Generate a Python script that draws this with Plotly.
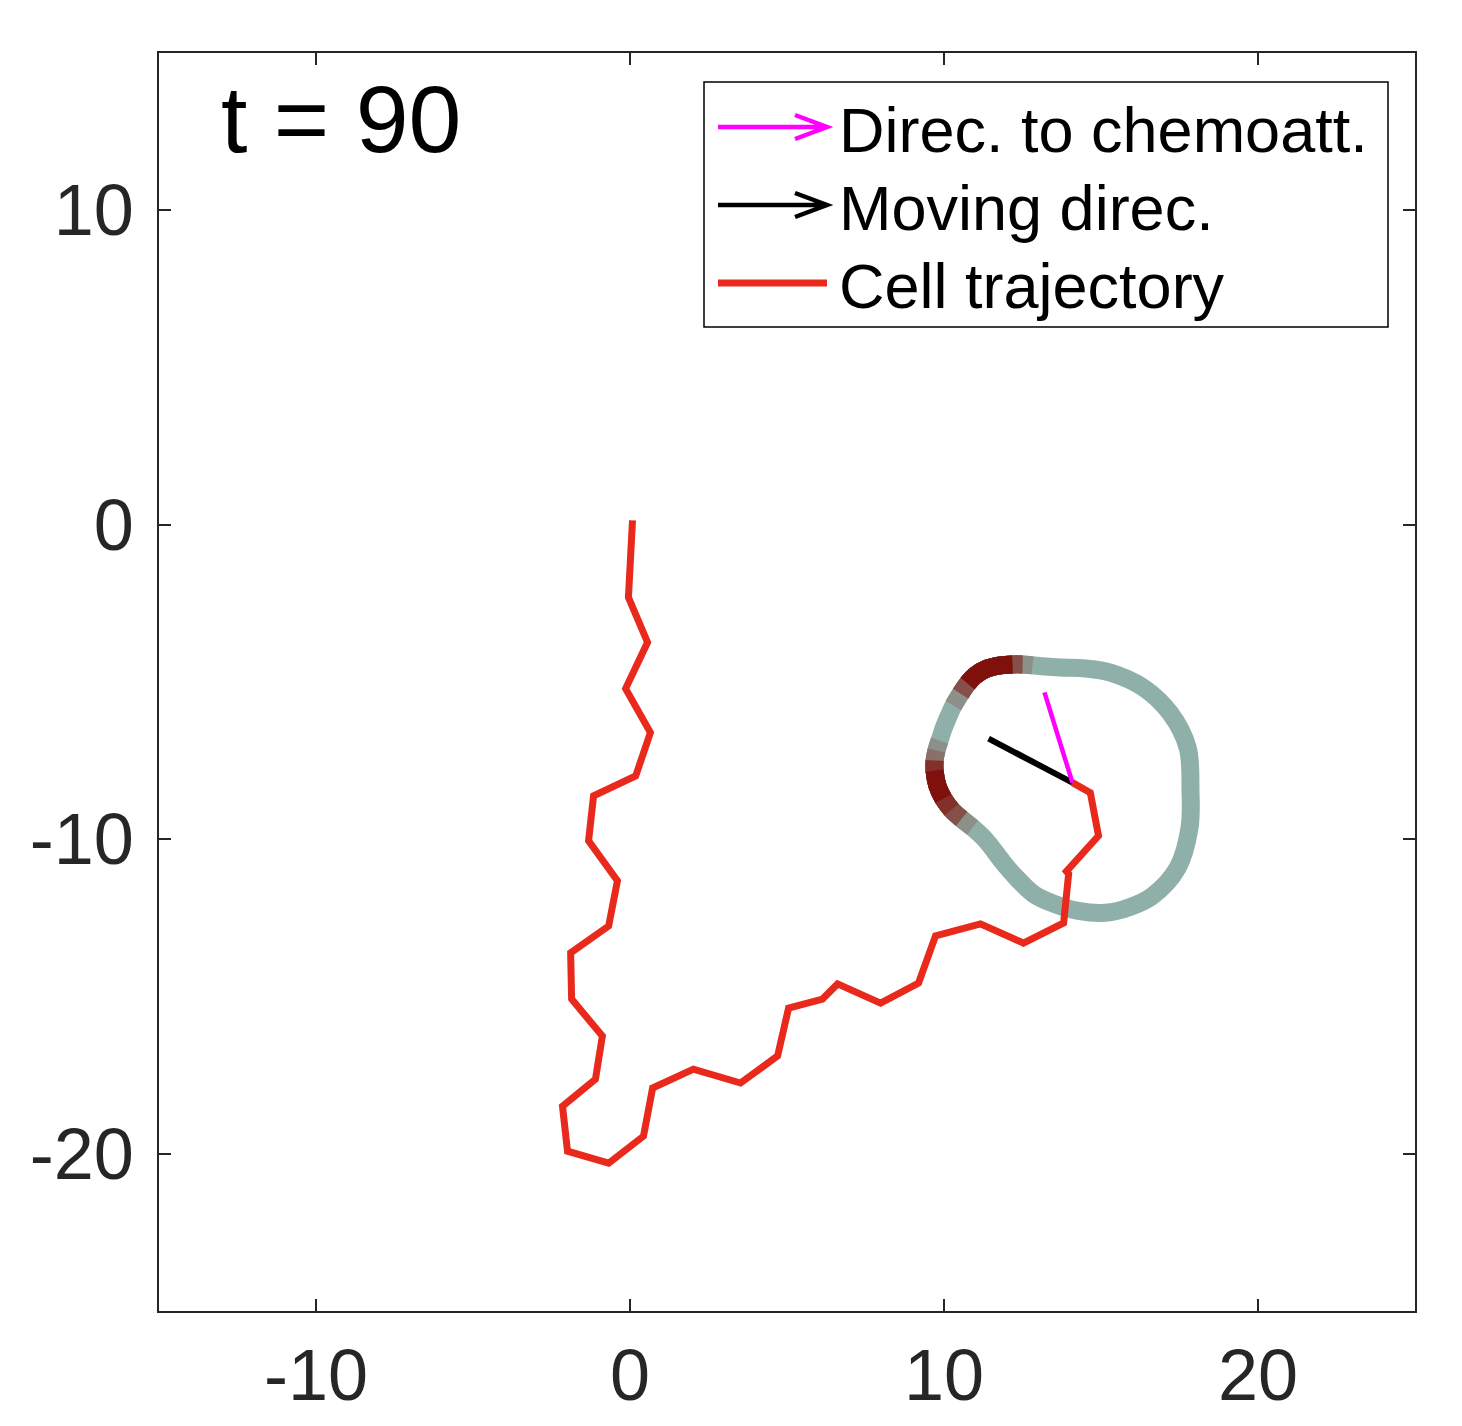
import plotly.graph_objects as go

# cell trajectory (centre positions over time)
traj_x = [0.08, -0.05, 0.56, -0.14, 0.65, 0.18, -1.16, -1.32, -0.40, -0.68,
          -1.89, -1.86, -0.88, -1.10, -2.15, -1.99, -0.68, 0.43, 0.72, 2.02,
          3.52, 4.70, 5.05, 6.13, 6.61, 7.98, 9.19, 9.73, 11.16, 12.53,
          13.81, 13.97, 13.90, 14.92, 14.66, 14.09]
traj_y = [0.14, -2.31, -3.74, -5.21, -6.61, -7.99, -8.62, -10.05, -11.32, -12.76,
          -13.61, -15.08, -16.26, -17.63, -18.49, -19.92, -20.30, -19.44, -17.91, -17.31,
          -17.75, -16.89, -15.37, -15.08, -14.60, -15.21, -14.57, -13.07, -12.69, -13.30,
          -12.66, -11.10, -11.02, -9.89, -8.52, -8.20]

# cell membrane contour and local signal level (0 = low, 1 = high)
cell_x = [13.23, 13.71, 14.51, 15.30, 16.35, 17.21, 17.76, 17.85, 17.82, 17.44,
          16.64, 15.94, 15.14, 14.28, 13.49, 12.85, 12.34, 11.89, 11.48, 11.23,
          10.91, 10.56, 10.24, 9.98, 9.79, 9.70, 9.70, 9.76, 9.86, 9.98,
          10.14, 10.30, 10.53, 10.75, 11.00, 11.38, 11.80, 12.18, 12.50, 12.82]
cell_y = [-4.51, -4.54, -4.57, -4.70, -5.18, -6.00, -7.09, -8.46, -9.63, -10.91,
          -11.80, -12.15, -12.34, -12.28, -12.05, -11.74, -11.26, -10.75, -10.21, -9.92,
          -9.63, -9.35, -9.06, -8.71, -8.30, -7.82, -7.50, -7.18, -6.86, -6.49,
          -6.10, -5.75, -5.37, -5.05, -4.79, -4.57, -4.47, -4.44, -4.44, -4.47]
cell_level = [0, 0, 0, 0, 0, 0, 0, 0, 0, 0,
              0, 0, 0, 0, 0, 0, 0, 0, 0, 0,
              0.15, 0.5, 0.85, 1, 1, 1, 0.85, 0.45, 0.1, 0,
              0, 0.1, 0.5, 0.9, 1, 1, 1, 1, 0.6, 0.15]

# direction vectors from the current cell position
moving_dir = [(14.09, -8.20), (11.42, -6.80)]
chemo_dir = [(14.09, -8.20), (13.20, -5.33)]

time_label = "t = 90"
legend_labels = ["Direc. to chemoatt.", "Moving direc.", "Cell trajectory"]
x_ticks = [-10, 0, 10, 20]
y_ticks = [-20, -10, 0, 10]

FONT = "Liberation Sans, Arial, Helvetica, sans-serif"
AX = "#262626"
LOW = (143, 176, 168)
HIGH = (128, 16, 12)
TRAJ = "#E8291C"
BAND = 18


def blend(v):
    c = [round(a + (b - a) * v) for a, b in zip(LOW, HIGH)]
    return "rgb(%d,%d,%d)" % tuple(c)


fig = go.Figure()

# membrane: smooth low-signal ring, then darker layers where the signal is high
fig.add_trace(go.Scatter(
    x=cell_x + cell_x[:1], y=cell_y + cell_y[:1], mode="lines",
    line=dict(color=blend(0), width=BAND, shape="spline", smoothing=1),
    hoverinfo="skip", showlegend=False))
for thr in [0.1, 0.3, 0.5, 0.7, 0.9]:
    run = []
    for i, v in enumerate(cell_level + [0]):
        if v >= thr and i < len(cell_level):
            run.append(i)
            continue
        if len(run) >= 2:
            fig.add_trace(go.Scatter(
                x=[cell_x[k] for k in run], y=[cell_y[k] for k in run], mode="lines",
                line=dict(color=blend(min(1, thr + 0.1)), width=BAND,
                          shape="spline", smoothing=1),
                hoverinfo="skip", showlegend=False))
        run = []

fig.add_trace(go.Scatter(x=traj_x, y=traj_y, mode="lines",
                         line=dict(color=TRAJ, width=7), showlegend=False))
fig.add_trace(go.Scatter(x=[p[0] for p in moving_dir], y=[p[1] for p in moving_dir],
                         mode="lines", line=dict(color="black", width=6), showlegend=False))
fig.add_trace(go.Scatter(x=[p[0] for p in chemo_dir], y=[p[1] for p in chemo_dir],
                         mode="lines", line=dict(color="#FF00FF", width=4.5), showlegend=False))

# target geometry in page pixels (page body has an 8px margin)
L, R, T, B = 159, 1415, 53, 1311
W, H = 1446, 1410


def px(x):
    return (x - L) / (R - L)


def py(y):
    return (B - y) / (B - T)


# hand-drawn legend box
fig.add_shape(type="rect", xref="paper", yref="paper",
              x0=px(704), x1=px(1388), y0=py(327), y1=py(82),
              line=dict(color="black", width=1.5), fillcolor="white", layer="above")

rows = [127, 205, 283]
glyph_colors = ["#FF00FF", "black", TRAJ]
for k, (row, col, lab) in enumerate(zip(rows, glyph_colors, legend_labels)):
    if k < 2:
        path = "M %f,%f L %f,%f M %f,%f L %f,%f L %f,%f" % (
            px(718), py(row), px(825), py(row),
            px(795), py(row - 12), px(827), py(row), px(795), py(row + 12))
        fig.add_shape(type="path", xref="paper", yref="paper", path=path,
                      line=dict(color=col, width=4.5))
    else:
        fig.add_shape(type="line", xref="paper", yref="paper",
                      x0=px(718), x1=px(827), y0=py(row), y1=py(row),
                      line=dict(color=col, width=7))
    fig.add_annotation(x=px(837), y=py(row + 3), xref="paper", yref="paper",
                       text=lab, showarrow=False, xanchor="left", yanchor="middle",
                       font=dict(family=FONT, size=63, color="black"))

fig.add_annotation(x=px(219), y=py(119), xref="paper", yref="paper",
                   text=time_label, showarrow=False, xanchor="left", yanchor="middle",
                   font=dict(family=FONT, size=95, color="black"))

axis_style = dict(showgrid=False, zeroline=False, showline=True, linecolor=AX,
                  linewidth=1.5, mirror="allticks", ticks="inside", ticklen=12,
                  tickwidth=1.5, tickcolor=AX, automargin=False,
                  tickfont=dict(family=FONT, size=72, color=AX))

fig.update_xaxes(range=[-15, 25], tickvals=x_ticks, ticktext=[str(v) for v in x_ticks],
                 ticklabelstandoff=1, **axis_style)
fig.update_yaxes(range=[-25, 15], tickvals=y_ticks, ticktext=[str(v) for v in y_ticks],
                 ticklabelstandoff=9, **axis_style)

fig.update_layout(width=W, height=H,
                  margin=dict(l=L - 8, r=W + 8 - R, t=T - 8, b=H + 8 - B),
                  plot_bgcolor="white", paper_bgcolor="white",
                  showlegend=False)

fig.write_html("out.html")
